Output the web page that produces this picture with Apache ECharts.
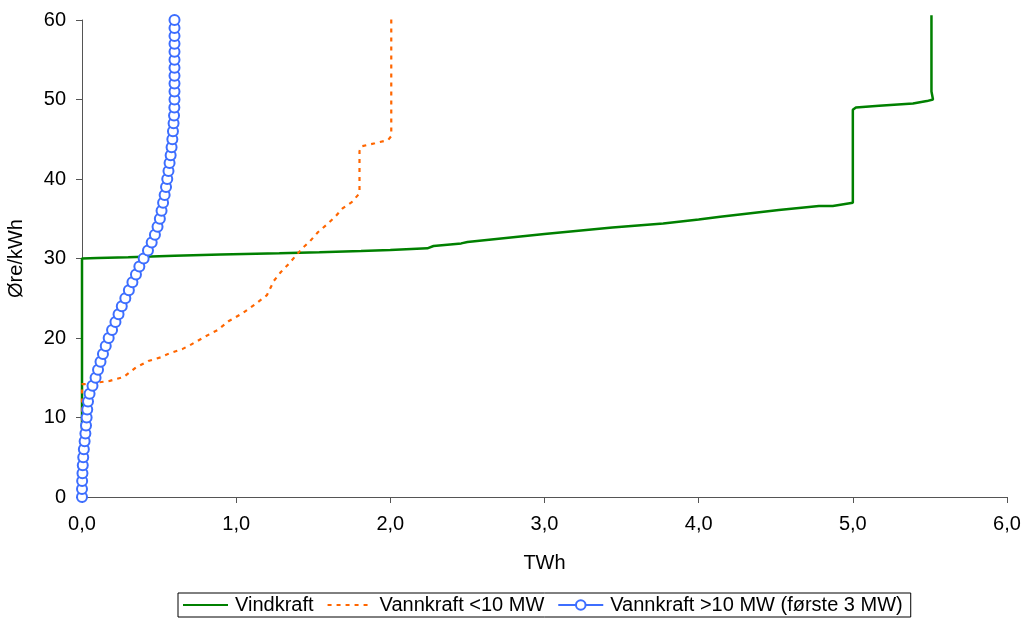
<!DOCTYPE html>
<html>
<head>
<meta charset="utf-8">
<script src="https://cdn.jsdelivr.net/npm/echarts@6/dist/echarts.min.js"></script>
<style>
  html, body { margin: 0; padding: 0; background: #ffffff; }
  #chart { width: 1026px; height: 625px; }
</style>
</head>
<body>
<div id="chart"></div>
<script>
// Supply curves: cumulative volume (TWh) against price (øre/kWh)

const seriesNames = ['Vindkraft', 'Vannkraft <10 MW', 'Vannkraft >10 MW (første 3 MW)'];

// Vindkraft
const windTWh = [0, 0, 0.10, 0.30, 0.60, 0.90, 1.28, 1.54, 1.81, 2.00, 2.24, 2.28, 2.46, 2.50,
  3.00, 3.44, 3.77, 4.00, 4.14, 4.52, 4.78, 4.87, 5.00, 5.00, 5.02, 5.17, 5.39, 5.48, 5.52, 5.51, 5.51];
const windPrice = [8.5, 30.0, 30.05, 30.15, 30.35, 30.5, 30.65, 30.78, 30.94, 31.07, 31.28, 31.57, 31.9, 32.08,
  33.08, 33.9, 34.4, 34.9, 35.26, 36.1, 36.6, 36.6, 37.0, 48.7, 49.0, 49.2, 49.5, 49.8, 50.0, 51.0, 60.6];

// Vannkraft <10 MW
const smallHydroTWh = [0, 0, 0.018, 0.18, 0.27, 0.35, 0.43, 0.515, 0.57, 0.65, 0.71, 0.80, 0.88, 0.95,
  1.04, 1.12, 1.20, 1.245, 1.29, 1.34, 1.38, 1.43, 1.48, 1.53, 1.59, 1.645, 1.69, 1.75, 1.80, 1.80,
  1.812, 1.90, 1.985, 2.006, 2.006];
const smallHydroPrice = [8.5, 14.2, 14.2, 14.6, 15.1, 16.3, 17.1, 17.6, 18.1, 18.6, 19.2, 20.2, 21.0, 22.1,
  23.1, 24.2, 25.4, 27.2, 28.3, 29.3, 30.2, 31.3, 32.2, 33.3, 34.3, 35.3, 36.3, 37.1, 38.2, 43.5,
  44.1, 44.5, 44.9, 45.4, 60.5];

// Vannkraft >10 MW (første 3 MW), one point per øre/kWh
const largeHydroTWh = [0.000, 0.000, 0.001, 0.003, 0.005, 0.008, 0.012, 0.017, 0.022, 0.026,
  0.030, 0.034, 0.039, 0.049, 0.068, 0.088, 0.104, 0.120, 0.136, 0.154,
  0.173, 0.195, 0.217, 0.237, 0.258, 0.281, 0.304, 0.327, 0.350, 0.372,
  0.400, 0.428, 0.452, 0.473, 0.490, 0.505, 0.516, 0.526, 0.536, 0.545,
  0.553, 0.561, 0.568, 0.575, 0.581, 0.586, 0.590, 0.594, 0.597, 0.599,
  0.600, 0.600, 0.600, 0.600, 0.600, 0.600, 0.600, 0.600, 0.600, 0.600, 0.600];
const largeHydroPrice = [0, 1, 2, 3, 4, 5, 6, 7, 8, 9,
  10, 11, 12, 13, 14, 15, 16, 17, 18, 19,
  20, 21, 22, 23, 24, 25, 26, 27, 28, 29,
  30, 31, 32, 33, 34, 35, 36, 37, 38, 39,
  40, 41, 42, 43, 44, 45, 46, 47, 48, 49,
  50, 51, 52, 53, 54, 55, 56, 57, 58, 59, 60];

const xTicks = { min: 0, max: 6, interval: 1 };
const yTicks = { min: 0, max: 60, interval: 10 };

function pairs(xs, ys) { return xs.map((x, i) => [x, ys[i]]); }

const FONT = 'Liberation Sans, Arial, sans-serif';
const axisColor = '#555555';
const BLUE = '#3D6EFF';

const chart = echarts.init(document.getElementById('chart'), null, { renderer: 'canvas' });
chart.setOption({
  backgroundColor: '#ffffff',
  animation: false,
  grid: { left: 82, right: 19, top: 20, bottom: 128, containLabel: false, outerBoundsMode: 'none' },
  xAxis: {
    type: 'value', min: xTicks.min, max: xTicks.max, interval: xTicks.interval,
    name: 'TWh', nameLocation: 'middle', nameGap: 56,
    nameTextStyle: { fontFamily: FONT, fontSize: 20, color: '#000' },
    axisLine: { show: true, onZero: false, lineStyle: { color: axisColor, width: 1 } },
    axisTick: { show: true, inside: false, length: 6, lineStyle: { color: axisColor } },
    axisLabel: { fontFamily: FONT, fontSize: 20, color: '#000', margin: 17,
      formatter: v => v.toFixed(1).replace('.', ',') },
    splitLine: { show: false }
  },
  yAxis: {
    type: 'value', min: yTicks.min, max: yTicks.max, interval: yTicks.interval,
    name: 'Øre/kWh', nameLocation: 'middle', nameGap: 56, nameRotate: 90,
    nameTextStyle: { fontFamily: FONT, fontSize: 20, color: '#000' },
    axisLine: { show: true, lineStyle: { color: axisColor, width: 1 } },
    axisTick: { show: true, inside: false, length: 6, lineStyle: { color: axisColor } },
    axisLabel: { fontFamily: FONT, fontSize: 20, color: '#000', margin: 16 },
    splitLine: { show: false }
  },
  legend: {
    left: 178, top: 593,
    padding: [2, 8, 2, 4],
    borderColor: '#000', borderWidth: 1,
    itemGap: 13, itemWidth: 45, itemHeight: 12,
    textStyle: { fontFamily: FONT, fontSize: 20, color: '#000', padding: [0, 0, 0, 2] },
    data: [
      { name: seriesNames[0], itemStyle: { opacity: 0 } },
      { name: seriesNames[1], itemStyle: { opacity: 0 } },
      { name: seriesNames[2] }
    ]
  },
  series: [
    {
      name: seriesNames[0], type: 'line', data: pairs(windTWh, windPrice),
      symbol: 'none', clip: false,
      lineStyle: { color: '#008000', width: 2.5 },
      itemStyle: { color: '#008000' }
    },
    {
      name: seriesNames[1], type: 'line', data: pairs(smallHydroTWh, smallHydroPrice),
      symbol: 'none', clip: false,
      lineStyle: { color: '#FF6600', width: 2.2, type: [4, 5] },
      itemStyle: { color: '#FF6600' }
    },
    {
      name: seriesNames[2], type: 'line', data: pairs(largeHydroTWh, largeHydroPrice),
      symbol: 'emptyCircle', symbolSize: 10, showSymbol: true, showAllSymbol: true, clip: false,
      lineStyle: { color: BLUE, width: 1.5 },
      itemStyle: { color: BLUE, borderColor: BLUE, borderWidth: 1.2 }
    }
  ]
});
</script>
</body>
</html>
